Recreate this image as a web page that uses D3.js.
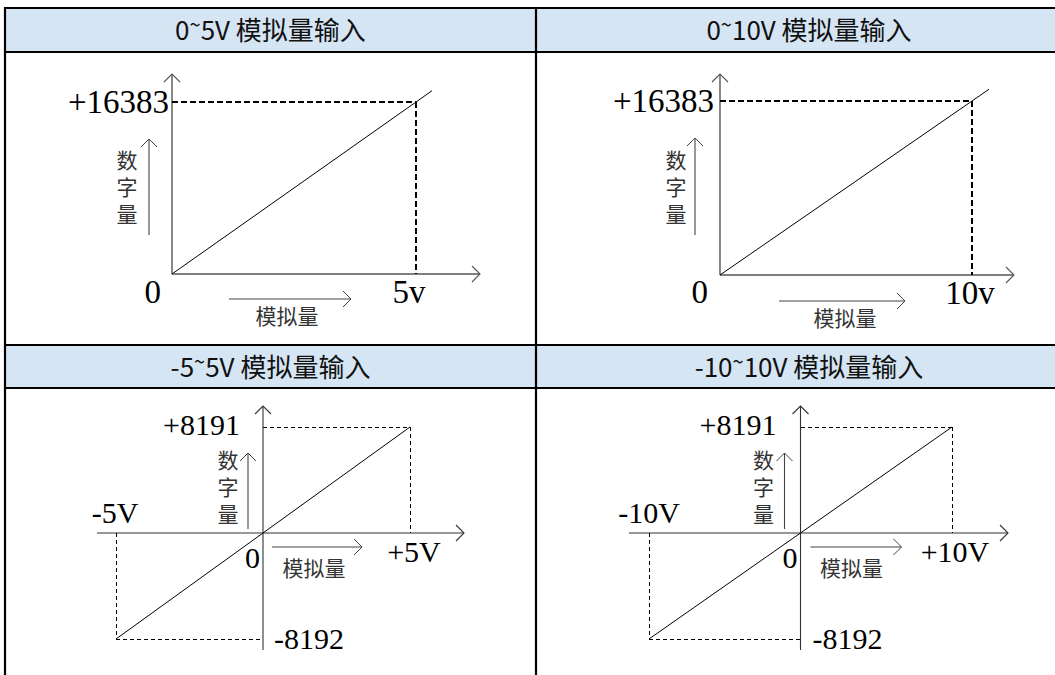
<!DOCTYPE html>
<html>
<head>
<meta charset="utf-8">
<script src="https://cdn.jsdelivr.net/npm/d3@7"></script>
<style>
  html, body { margin: 0; padding: 0; background: #fff; }
  svg { display: block; }
</style>
</head>
<body>
<svg id="chart" width="1055" height="675"></svg>
<script>
// ---------------- data ----------------
const panelTitles = ["0~5V 模拟量输入", "0~10V 模拟量输入", "-5~5V 模拟量输入", "-10~10V 模拟量输入"];
const voltMin = [0, 0, -5, -10];
const voltMax = [5, 10, 5, 10];
const digitMin = [0, 0, -8192, -8192];
const digitMax = [16383, 16383, 8191, 8191];
const voltMaxLabels = ["5v", "10v", "+5V", "+10V"];
const voltMinLabels = [null, null, "-5V", "-10V"];
const digitMaxLabels = ["+16383", "+16383", "+8191", "+8191"];
const digitMinLabels = [null, null, "-8192", "-8192"];
const originLabel = "0";
const yAxisTitle = "数字量";
const xAxisTitle = "模拟量";

// ---------------- layout (pixels) ----------------
const layout = [
  { xr: [172, 416], yr: [274, 102], axX: [172, 480], axY: [274, 74], ext: 16,
    dash: "6,3", dw: 2, lab: 33,
    maxLab: { dx: -3, dy: 11 }, zero: { dx: -11, dy: 29 }, vmax: { dx: -7, dy: 29 },
    yt: { dx: -45, top: 150, arrX: -23, arr: [235, 139] },
    xt: { arrY: 25, arr: [57, 179], tx: 115, ty: 41 } },
  { xr: [720, 972], yr: [275, 101], axX: [720, 1014], axY: [275, 74], ext: 17,
    dash: "6,3", dw: 2, lab: 33,
    maxLab: { dx: -6, dy: 11 }, zero: { dx: -12, dy: 28 }, vmax: { dx: -2, dy: 29 },
    yt: { dx: -44, top: 150, arrX: -25, arr: [235, 138] },
    xt: { arrY: 26, arr: [59, 185], tx: 125, ty: 42 } },
  { xr: [116, 410], yr: [639, 427], axX: [97, 464], axY: [650, 406], ext: 0,
    dash: "4,3", dw: 1, lab: 30,
    maxLab: { dx: -23, dy: 8 }, zero: { dx: -3, dy: 35 }, vmax: { dx: 4, dy: 29 },
    vmin: { dx: -1, dy: -10 }, minLab: { dx: 11, dy: 10 },
    yt: { dx: -35, top: 450, arrX: -15, arr: [529, 453] },
    xt: { arrY: 14, arr: [9, 99], tx: 51, ty: 34 } },
  { xr: [649, 952], yr: [639, 427], axX: [629, 1008], axY: [650, 406], ext: 0,
    dash: "4,3", dw: 1, lab: 30,
    maxLab: { dx: -24, dy: 8 }, zero: { dx: -3, dy: 35 }, vmax: { dx: 3, dy: 29 },
    vmin: { dx: 0, dy: -10 }, minLab: { dx: 12, dy: 10 },
    yt: { dx: -37, top: 450, arrX: -16, arr: [529, 453] },
    xt: { arrY: 14, arr: [10, 101], tx: 51, ty: 34 } }
];

const svg = d3.select("#chart");
const serif = "'Liberation Serif', 'Times New Roman', serif";
const cjk = "'Noto Sans CJK SC', 'Noto Sans', sans-serif";

// ---------------- table frame ----------------
const colX = [5, 536, 1082];
const rowY = [8, 52, 345, 388, 700];
const headerFill = "#D5E5F3";
[[rowY[0], rowY[1]], [rowY[2], rowY[3]]].forEach(([a, b]) => {
  svg.append("rect").attr("x", colX[0]).attr("y", a).attr("width", colX[2] - colX[0]).attr("height", b - a)
    .attr("fill", headerFill);
});
rowY.slice(0, 4).forEach(y => {
  svg.append("line").attr("x1", colX[0] - 1).attr("x2", colX[2]).attr("y1", y).attr("y2", y)
    .attr("stroke", "#000").attr("stroke-width", 2.2);
});
colX.forEach(x => {
  svg.append("line").attr("x1", x).attr("x2", x).attr("y1", rowY[0] - 1).attr("y2", 700)
    .attr("stroke", "#000").attr("stroke-width", 2.2);
});

// titles (tilde drawn raised, as in the reference typeface)
panelTitles.forEach((t, i) => {
  const c = i % 2, r = Math.floor(i / 2);
  const cx = (colX[c] + colX[c + 1]) / 2;
  const cy = (rowY[r * 2] + rowY[r * 2 + 1]) / 2 + 10;
  const txt = svg.append("text").attr("x", cx).attr("y", cy)
    .attr("text-anchor", "middle")
    .attr("font-family", cjk).attr("font-size", 26).attr("fill", "#111");
  const parts = t.split("~");
  txt.append("tspan").text(parts[0]);
  txt.append("tspan").attr("dy", -8).attr("font-size", 20).text("~");
  txt.append("tspan").attr("dy", 8).text(parts[1]);
});

// ---------------- helpers ----------------
function arrowHead(g, x, y, dir, color, w) {
  const s = 8;
  let pts;
  if (dir === "up") pts = [[x - s, y + s], [x, y], [x + s, y + s]];
  else pts = [[x - s, y - s], [x, y], [x - s, y + s]];
  g.append("path").attr("d", d3.line()(pts)).attr("fill", "none")
    .attr("stroke", color).attr("stroke-width", w);
}

// ---------------- panels ----------------
panelTitles.forEach((t, i) => {
  const L = layout[i];
  const g = svg.append("g");
  const x = d3.scaleLinear().domain([voltMin[i], voltMax[i]]).range(L.xr);
  const y = d3.scaleLinear().domain([digitMin[i], digitMax[i]]).range(L.yr);
  const x0 = x(0), y0 = y(0);
  const axisColor = i < 2 ? "#555" : "#333";
  const axisW = i < 2 ? 1.4 : 1.1;

  // axes
  g.append("line").attr("x1", L.axX[0]).attr("x2", L.axX[1]).attr("y1", y0).attr("y2", y0)
    .attr("stroke", axisColor).attr("stroke-width", axisW);
  g.append("line").attr("x1", x0).attr("x2", x0).attr("y1", L.axY[0]).attr("y2", L.axY[1])
    .attr("stroke", axisColor).attr("stroke-width", axisW);
  arrowHead(g, L.axX[1], y0, "right", axisColor, 1.1);
  arrowHead(g, x0, L.axY[1], "up", axisColor, 1.1);

  // dashed guides
  const dashed = (x1, y1, x2, y2) => g.append("line")
    .attr("x1", x1).attr("y1", y1).attr("x2", x2).attr("y2", y2)
    .attr("stroke", "#000").attr("stroke-width", L.dw).attr("stroke-dasharray", L.dash)
    .attr("shape-rendering", "crispEdges");
  const xm = x(voltMax[i]), ym = y(digitMax[i]);
  dashed(x0, ym, xm, ym);
  dashed(xm, ym, xm, y0);
  if (voltMin[i] < 0) {
    const xn = x(voltMin[i]), yn = y(digitMin[i]);
    dashed(xn, y0, xn, yn);
    dashed(xn, yn, x0, yn);
  }

  // transfer line
  const pts = [[x(voltMin[i]), y(digitMin[i])], [xm, ym]];
  if (L.ext) {
    const dx = pts[1][0] - pts[0][0], dy = pts[1][1] - pts[0][1];
    const len = Math.hypot(dx, dy);
    const e = L.ext / (dx / len);
    pts.push([xm + dx / len * e, ym + dy / len * e]);
  }
  g.append("path").attr("d", d3.line()(pts)).attr("fill", "none")
    .attr("stroke", "#000").attr("stroke-width", 1);

  // numeric labels
  const lab = (txt, px, py, anchor) => g.append("text").attr("x", px).attr("y", py)
    .attr("text-anchor", anchor).attr("font-family", serif).attr("font-size", L.lab)
    .attr("fill", "#000").text(txt);
  lab(digitMaxLabels[i], x0 + L.maxLab.dx, ym + L.maxLab.dy, "end");
  lab(originLabel, x0 + L.zero.dx, y0 + L.zero.dy, "end");
  lab(voltMaxLabels[i], xm + L.vmax.dx, y0 + L.vmax.dy, "middle");
  if (voltMinLabels[i]) lab(voltMinLabels[i], x(voltMin[i]) + L.vmin.dx, y0 + L.vmin.dy, "middle");
  if (digitMinLabels[i]) lab(digitMinLabels[i], x0 + L.minLab.dx, y(digitMin[i]) + L.minLab.dy, "start");

  // y-axis title (vertical writing) with arrow
  g.append("text").attr("x", x0 + L.yt.dx).attr("y", L.yt.top)
    .attr("writing-mode", "vertical-rl")
    .style("letter-spacing", "6px")
    .attr("font-family", cjk).attr("font-size", 21).attr("fill", "#333").text(yAxisTitle);
  const ax = x0 + L.yt.arrX;
  g.append("line").attr("x1", ax).attr("x2", ax).attr("y1", L.yt.arr[0]).attr("y2", L.yt.arr[1])
    .attr("stroke", "#444").attr("stroke-width", 1.1);
  arrowHead(g, ax, L.yt.arr[1], "up", "#444", 1);

  // x-axis title with arrow
  const ay = y0 + L.xt.arrY;
  g.append("line").attr("x1", x0 + L.xt.arr[0]).attr("x2", x0 + L.xt.arr[1]).attr("y1", ay).attr("y2", ay)
    .attr("stroke", "#444").attr("stroke-width", 1.1);
  arrowHead(g, x0 + L.xt.arr[1], ay, "right", "#444", 1);
  g.append("text").attr("x", x0 + L.xt.tx).attr("y", y0 + L.xt.ty)
    .attr("text-anchor", "middle").attr("dominant-baseline", "central")
    .attr("font-family", cjk).attr("font-size", 21).attr("fill", "#333").text(xAxisTitle);
});
</script>
</body>
</html>
